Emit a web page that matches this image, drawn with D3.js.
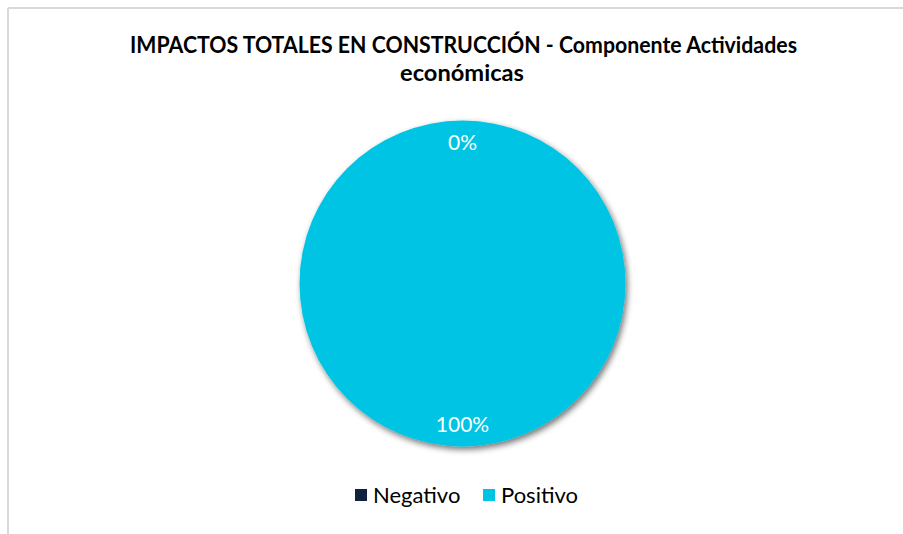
<!DOCTYPE html>
<html>
<head>
<meta charset="utf-8">
<script src="https://cdn.jsdelivr.net/npm/d3@7"></script>
<style>
  html, body { margin: 0; padding: 0; background: #fff; }
  svg { display: block; }
</style>
</head>
<body>
<script>
const categories = ["Negativo", "Positivo"];
const values = [0, 100];
const colors = ["#14213d", "#00c4e3"];
const titleLines = ["IMPACTOS TOTALES EN CONSTRUCCIÓN - Componente Actividades", "económicas"];

const W = 903, H = 534;
const svg = d3.select("body").append("svg").attr("width", W).attr("height", H);

// chart border (top and left visible)
svg.append("line").attr("x1", 8).attr("y1", 8).attr("x2", W).attr("y2", 8)
  .attr("stroke", "#d9d9d9").attr("stroke-width", 2);
svg.append("line").attr("x1", 8).attr("y1", 8).attr("x2", 8).attr("y2", H)
  .attr("stroke", "#d9d9d9").attr("stroke-width", 2);

const defs = svg.append("defs");
const f = defs.append("filter").attr("id", "shadow")
  .attr("x", "-20%").attr("y", "-20%").attr("width", "140%").attr("height", "140%");
f.append("feGaussianBlur").attr("in", "SourceAlpha").attr("stdDeviation", 3).attr("result", "b");
f.append("feOffset").attr("in", "b").attr("dx", 2).attr("dy", 3).attr("result", "o");
f.append("feComponentTransfer").attr("in", "o").attr("result", "o2")
  .append("feFuncA").attr("type", "linear").attr("slope", 0.55);
const m = f.append("feMerge");
m.append("feMergeNode").attr("in", "o2");
m.append("feMergeNode").attr("in", "SourceGraphic");

// title
const font = "Lato, 'Open Sans', 'Liberation Sans', sans-serif";
svg.append("text").attr("x", 463.5).attr("y", 53).attr("text-anchor", "middle")
  .attr("font-family", font).attr("font-weight", "bold").attr("font-size", 22)
  .attr("fill", "#000").attr("textLength", 667).attr("lengthAdjust", "spacingAndGlyphs")
  .text(titleLines[0]);
svg.append("text").attr("x", 462).attr("y", 81).attr("text-anchor", "middle")
  .attr("font-family", font).attr("font-weight", "bold").attr("font-size", 22)
  .attr("fill", "#000").attr("textLength", 124).attr("lengthAdjust", "spacingAndGlyphs")
  .text(titleLines[1]);

// pie
const cx = 462.5, cy = 283.5, R = 163;
const data = categories.map((c, i) => ({ cat: c, value: values[i], color: colors[i] }));
const pie = d3.pie().value(d => d.value).sort(null);
const arcs = pie(data);
const arc = d3.arc().innerRadius(0).outerRadius(R);
const labelArc = d3.arc().innerRadius(R * 0.865).outerRadius(R * 0.865);
const total = d3.sum(values);

const g = svg.append("g").attr("transform", `translate(${cx},${cy})`);
g.append("g").attr("filter", "url(#shadow)")
  .selectAll("path").data(arcs).join("path")
  .attr("d", arc).attr("fill", d => d.data.color);

g.selectAll("text.lbl").data(arcs).join("text").attr("class", "lbl")
  .attr("transform", d => `translate(${labelArc.centroid(d)})`)
  .attr("text-anchor", "middle").attr("dy", "0.36em")
  .attr("font-family", font).attr("font-size", 21).attr("fill", "#fff")
  .text(d => Math.round(d.data.value / total * 100) + "%");

// legend
const legendX = [355, 483];
const lg = svg.append("g");
const items = lg.selectAll("g").data(data).join("g")
  .attr("transform", (d, i) => `translate(${legendX[i]},489)`);
items.append("rect").attr("width", 12).attr("height", 12).attr("fill", d => d.color);
items.append("text").attr("x", 18).attr("y", 13.5)
  .attr("font-family", font).attr("font-size", 22).attr("fill", "#000")
  .text(d => d.cat);
</script>
</body>
</html>
